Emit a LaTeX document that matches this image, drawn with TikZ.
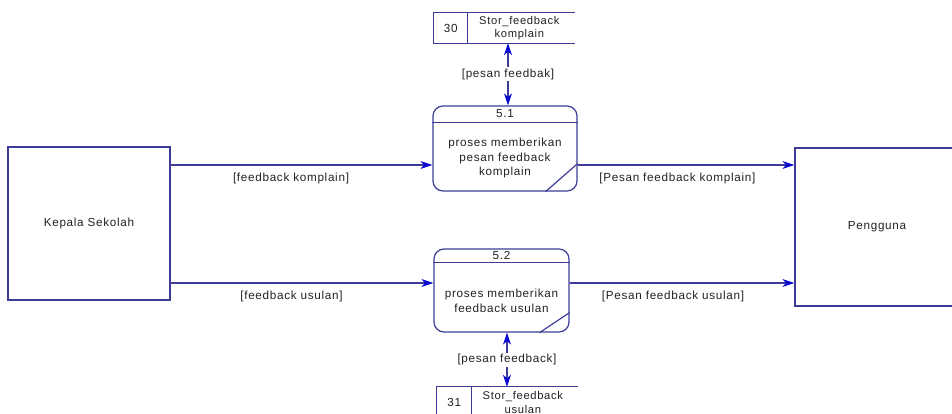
\documentclass[tikz,border=0pt]{standalone}
\usepackage{fontspec}
\setmainfont{Liberation Sans}[LetterSpace=6]
\usetikzlibrary{arrows.meta,calc}
\definecolor{edge}{HTML}{3C3C96}
\definecolor{tip}{HTML}{0A0AD2}
\definecolor{ink}{HTML}{222222}

\begin{document}
\begin{tikzpicture}[x=1pt,y=-1pt,
  every node/.style={font=\fontsize{11.7}{14.5}\selectfont, text=ink},
  outline/.style={draw=edge, line width=1.2pt},
  entity/.style={outline, rectangle, inner sep=0pt},
  procbox/.style={outline, rectangle, rounded corners=10pt, inner sep=0pt},
  storebox/.style={rectangle, inner sep=0pt, minimum width=141pt, minimum height=30pt},
  flow/.style={outline, -{Stealth[length=12pt,width=8pt,inset=3.5pt,color=tip]}},
  biflow/.style={outline, {Stealth[length=12pt,width=8pt,inset=3.5pt,color=tip]}-{Stealth[length=12pt,width=8pt,inset=3.5pt,color=tip]}},
  flowlabel/.style={below=6.5pt, pos=0.46, inner sep=1pt},
  midlabel/.style={midway, fill=white, inner sep=1.5pt},
  txt/.style={align=center, inner sep=0pt},
]
\useasboundingbox (0,0) rectangle (952,414);
\clip (0,0) rectangle (952,414);
\fill[white] (0,0) rectangle (952,414);

% external entities
\node[entity, minimum width=162pt, minimum height=153pt] (kepala) at (89,223.5) {Kepala Sekolah};
\node[entity, minimum width=164pt, minimum height=158pt] (pengguna) at (877,227) {Pengguna};

% process 5.1
\node[procbox, minimum width=144pt, minimum height=85pt] (p51) at (505,148.5) {};
\coordinate (p51hl) at ([yshift=-17pt]p51.north west);
\coordinate (p51hr) at ([yshift=-17pt]p51.north east);
\draw[outline] (p51hl) -- (p51hr);
\draw[outline] ([xshift=-32pt]p51.south east) -- ([yshift=28pt]p51.south east);
\node[txt] (p51id) at ($(p51.north)!0.5!($(p51hl)!0.5!(p51hr)$)$) {5.1};
\node[txt] (p51tx) at ($($(p51hl)!0.5!(p51hr)$)!0.52!(p51.south)$) {proses memberikan\\pesan feedback\\komplain};

% process 5.2
\node[procbox, minimum width=135pt, minimum height=83pt] (p52) at (501.5,290.5) {};
\coordinate (p52hl) at ([yshift=-14pt]p52.north west);
\coordinate (p52hr) at ([yshift=-14pt]p52.north east);
\draw[outline] (p52hl) -- (p52hr);
\draw[outline] ([xshift=-30pt]p52.south east) -- ([yshift=20pt]p52.south east);
\node[txt] (p52id) at ($(p52.north)!0.5!($(p52hl)!0.5!(p52hr)$)$) {5.2};
\node[txt] (p52tx) at ($($(p52hl)!0.5!(p52hr)$)!0.55!(p52.south)$) {proses memberikan\\feedback usulan};

% data store 30
\node[storebox] (s30) at (504.5,28) {};
\draw[outline] (s30.north east) -- (s30.north west) -- (s30.south west) -- (s30.south east);
\coordinate (s30dt) at ([xshift=34pt]s30.north west);
\coordinate (s30db) at ([xshift=34pt]s30.south west);
\draw[outline] (s30dt) -- (s30db);
\node[txt] (s30id) at ($(s30.west)!0.5!($(s30dt)!0.5!(s30db)$)$) {30};
\node[txt, font=\fontsize{11.2}{13}\selectfont] (s30tx) at ($($(s30dt)!0.5!(s30db)$)!0.48!(s30.east)$) {Stor\_feedback\\komplain};

% data store 31
\node[storebox] (s31) at (507.5,402) {};
\draw[outline] (s31.north east) -- (s31.north west) -- (s31.south west) -- (s31.south east);
\coordinate (s31dt) at ([xshift=35pt]s31.north west);
\coordinate (s31db) at ([xshift=35pt]s31.south west);
\draw[outline] (s31dt) -- (s31db);
\node[txt] (s31id) at ($(s31.west)!0.5!($(s31dt)!0.5!(s31db)$)$) {31};
\node[txt, font=\fontsize{11.2}{14}\selectfont] (s31tx) at ($($(s31dt)!0.5!(s31db)$)!0.48!(s31.east)$) {Stor\_feedback\\usulan};

% flow levels
\coordinate (ya) at (0,165);
\coordinate (yb) at (0,283);
\coordinate (vx1) at (508,0);
\coordinate (vx2) at (507,0);

% data flows
\draw[flow] (kepala.east |- ya) -- (p51.west |- ya) node[flowlabel] {[feedback komplain]};
\draw[flow] (kepala.east |- yb) -- (p52.west |- yb) node[flowlabel] {[feedback usulan]};
\draw[flow] (p51.east |- ya) -- (pengguna.west |- ya) node[flowlabel] {[Pesan feedback komplain]};
\draw[flow] (p52.east |- yb) -- (pengguna.west |- yb) node[flowlabel] {[Pesan feedback usulan]};
\draw[biflow] (s30.south -| vx1) -- (p51.north -| vx1) node[midlabel] {[pesan feedbak]};
\draw[biflow] (p52.south -| vx2) -- (s31.north -| vx2) node[midlabel] {[pesan feedback]};
\end{tikzpicture}
\end{document}
